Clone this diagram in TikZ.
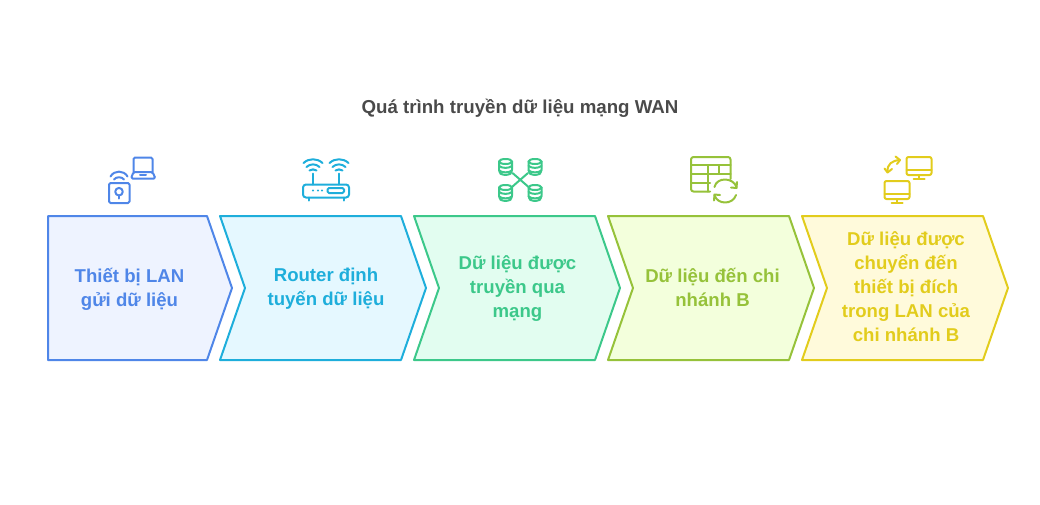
\documentclass[tikz,border=0pt]{standalone}
\usepackage{fontspec}
\setmainfont{Liberation Sans}
\usetikzlibrary{positioning}
\definecolor{lanC}{HTML}{4F86E8}
\definecolor{lanF}{HTML}{EEF3FF}
\definecolor{rouC}{HTML}{1EAEDB}
\definecolor{rouF}{HTML}{E5F8FF}
\definecolor{netC}{HTML}{3CC88A}
\definecolor{netF}{HTML}{E2FDF0}
\definecolor{nhaC}{HTML}{96C23A}
\definecolor{nhaF}{HTML}{F3FFDC}
\definecolor{dicC}{HTML}{E2CC1C}
\definecolor{dicF}{HTML}{FFFADB}
\definecolor{titC}{HTML}{4A4A4A}
\begin{document}
\begin{tikzpicture}[
    x=1pt, y=-1pt,
    Chev/.style={line width=2pt, line join=round},
    Txt/.style={font=\fontsize{18.6}{24}\selectfont\bfseries, align=center, inner sep=0pt},
    Icon/.style={line width=2pt, line cap=round, line join=round},
]
    \useasboundingbox (0,0) rectangle (1040,504);

    % Title
    \node[font=\fontsize{18.7}{24}\selectfont\bfseries, text=titC, inner sep=0pt] (Title) at (520,108.5) {Quá trình truyền dữ liệu mạng WAN};

    % Chevrons
    \draw[Chev, draw=lanC, fill=lanF] (48,216) -- (207,216) -- (232,288) -- (207,360) -- (48,360) -- cycle;
    \draw[Chev, draw=rouC, fill=rouF] (220,216) -- (401,216) -- (426,288) -- (401,360) -- (220,360) -- (245,288) -- cycle;
    \draw[Chev, draw=netC, fill=netF] (414,216) -- (595,216) -- (620,288) -- (595,360) -- (414,360) -- (439,288) -- cycle;
    \draw[Chev, draw=nhaC, fill=nhaF] (608,216) -- (789,216) -- (814,288) -- (789,360) -- (608,360) -- (633,288) -- cycle;
    \draw[Chev, draw=dicC, fill=dicF] (802,216) -- (983,216) -- (1008,288) -- (983,360) -- (802,360) -- (827,288) -- cycle;

    % Labels
    \node[Txt, text=lanC] (Lan) at (129.5,289) {Thiết bị LAN\\gửi dữ liệu};
    \node[Txt, text=rouC] (Rou) at (326,289) {Router định\\tuyến dữ liệu};
    \node[Txt, text=netC] (Net) at (517.5,289) {Dữ liệu được\\truyền qua\\mạng};
    \node[Txt, text=nhaC] (Nha) at (712.5,287) {Dữ liệu đến chi\\nhánh B};
    \node[Txt, text=dicC] (Dic) at (906,287) {Dữ liệu được\\chuyển đến\\thiết bị đích\\trong LAN của\\chi nhánh B};

    % Icon: LAN
    \draw[Icon, lanC, rounded corners=1.5pt] (109,183) rectangle (129.5,203);
    \draw[Icon, lanC] (119,191.7) circle (3.8);
    \draw[Icon, lanC] (119,195.5) -- (119,198.5);
    \draw[Icon, lanC] (110.5,176.5) .. controls (114,170) and (124,170) .. (127.5,176.5);
    \draw[Icon, lanC] (114,179.5) .. controls (116,176.5) and (122,176.5) .. (124,179.5);
    \draw[Icon, lanC, rounded corners=1.5pt] (133.5,172) -- (133.5,157.5) -- (152.5,157.5) -- (152.5,172);
    \draw[Icon, lanC, rounded corners=1.5pt] (133.5,172) -- (152.5,172) -- (155.5,178.5) -- (131,178.5) -- cycle;
    \draw[Icon, lanC] (140,175.3) -- (146,175.3);

    % Icon: router
    \draw[Icon, rouC, rounded corners=3pt] (303,184.5) rectangle (349,197.5);
    \draw[Icon, rouC, rounded corners=1.5pt] (327.5,188) rectangle (344,193);
    \foreach \dotx in {313,318,322}
        \fill[rouC] (\dotx,190.5) circle (1.2);
    \foreach \legx in {309,343.5}
        \draw[Icon, rouC] (\legx,197.5) -- (\legx,200.5);
    \foreach \antx in {313,339} {
        \draw[Icon, rouC] (\antx,173.5) -- (\antx,184.5);
        \draw[Icon, rouC] (\antx-9.5,163) .. controls (\antx-4,158) and (\antx+4,158) .. (\antx+9.5,163);
        \draw[Icon, rouC] (\antx-6.5,167) .. controls (\antx-3,163.5) and (\antx+3,163.5) .. (\antx+6.5,167);
        \draw[Icon, rouC] (\antx-3.5,170.5) .. controls (\antx-1.5,169) and (\antx+1.5,169) .. (\antx+3.5,170.5);
    }

    % Icon: databases
    \foreach \dbx/\dby in {505.5/158.5, 535/158.5, 505.5/184.5, 535/184.5} {
        \draw[Icon, netC, rounded corners=3pt] (\dbx-6.5,\dby+3) -- (\dbx-6.5,\dby+14) -- (\dbx-3,\dby+16.5) -- (\dbx+3,\dby+16.5) -- (\dbx+6.5,\dby+14) -- (\dbx+6.5,\dby+3);
        \draw[Icon, netC] (\dbx,\dby+3) ellipse (6.5 and 2.5);
        \draw[Icon, netC] (\dbx-6.5,\dby+7.5) .. controls (\dbx-3,\dby+10) and (\dbx+3,\dby+10) .. (\dbx+6.5,\dby+7.5);
        \draw[Icon, netC] (\dbx-6.5,\dby+12) .. controls (\dbx-3,\dby+14.5) and (\dbx+3,\dby+14.5) .. (\dbx+6.5,\dby+12);
    }
    \draw[Icon, netC] (512.5,173) -- (528,186.5);
    \draw[Icon, netC] (528,173) -- (512.5,186.5);

    % Icon: table with refresh
    \draw[Icon, nhaC, rounded corners=2.5pt] (710,191.5) -- (691,191.5) -- (691,157) -- (730.5,157) -- (730.5,179);
    \draw[Icon, nhaC] (691,165) -- (730.5,165);
    \draw[Icon, nhaC] (691,173.5) -- (730.5,173.5);
    \draw[Icon, nhaC] (691,182.5) -- (710,182.5);
    \draw[Icon, nhaC] (707.5,165) -- (707.5,191.5);
    \draw[Icon, nhaC] (718.5,165) -- (718.5,173.5);
    \draw[Icon, nhaC] (714.5,187) .. controls (716.5,177) and (733,177) .. (736.5,187);
    \draw[Icon, nhaC] (737,182) -- (736.5,188) -- (731,187.5);
    \draw[Icon, nhaC] (736,195) .. controls (733,205) and (717,205) .. (714.5,195);
    \draw[Icon, nhaC] (714,200.5) -- (714.5,194.5) -- (720,195);

    % Icon: monitors
    \foreach \monx/\mony in {906.5/157, 884.5/181} {
        \draw[Icon, dicC, rounded corners=2pt] (\monx,\mony) rectangle (\monx+25,\mony+18);
        \draw[Icon, dicC] (\monx,\mony+12.5) -- (\monx+25,\mony+12.5);
        \draw[Icon, dicC] (\monx+12.5,\mony+18) -- (\monx+12.5,\mony+21.5);
        \draw[Icon, dicC] (\monx+7,\mony+21.5) -- (\monx+18,\mony+21.5);
    }
    \draw[Icon, dicC] (887.5,172) .. controls (887,164) and (892,160.5) .. (900,160);
    \draw[Icon, dicC] (884.5,168.5) -- (887.5,172.5) -- (892,169);
    \draw[Icon, dicC] (895.5,156.5) -- (900,160) -- (897,164);
\end{tikzpicture}
\end{document}
